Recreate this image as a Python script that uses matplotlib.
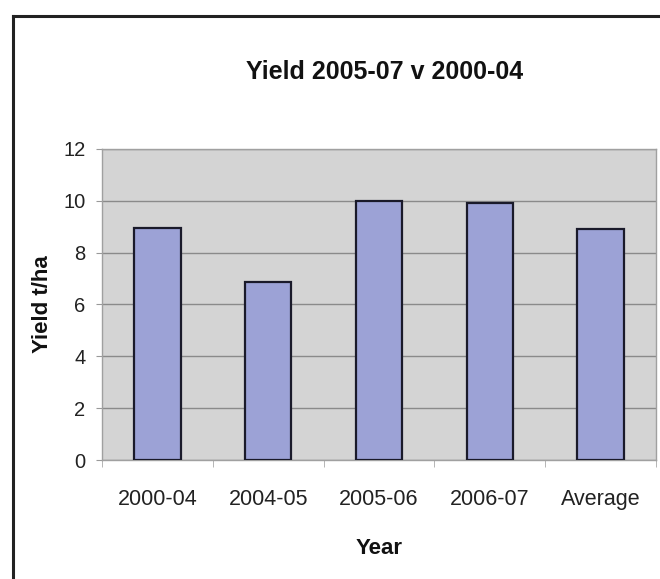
import matplotlib
matplotlib.use("Agg")
import matplotlib.pyplot as plt
from matplotlib.lines import Line2D

categories = ["2000-04", "2004-05", "2005-06", "2006-07", "Average"]
yields = [8.95, 6.85, 10.0, 9.9, 8.9]
y_ticks = [0, 2, 4, 6, 8, 10, 12]

title = "Yield 2005-07 v 2000-04"
x_label = "Year"
y_label = "Yield t/ha"

plt.rcParams["font.family"] = ["Liberation Sans", "DejaVu Sans"]

fig = plt.figure(figsize=(6.6, 5.79), dpi=100)
fig.patch.set_facecolor("white")
ax = fig.add_axes([0.1545, 0.2055, 0.8394, 0.5372])

ax.set_facecolor("#d4d4d4")
x = range(len(categories))
ax.bar(x, yields, width=0.42, color="#9ca2d6", edgecolor="#1a1a2a", linewidth=1.6, zorder=3)

ax.set_xlim(-0.5, len(categories) - 0.5)
ax.set_ylim(0, 12)
ax.set_yticks(y_ticks)
ax.yaxis.grid(True, color="#8a8a8a", linewidth=1.0, zorder=1)
ax.set_axisbelow(True)

ax.set_xticks(list(x))
ax.set_xticklabels(categories, fontsize=15.5, color="#222222")
ax.tick_params(axis="x", length=0, pad=21)
ax.set_xticks([i - 0.5 for i in range(len(categories) + 1)], minor=True)
ax.tick_params(axis="x", which="minor", length=5, color="#aaaaaa", direction="out")
ax.tick_params(axis="y", labelsize=14.5, length=4, color="#999999", pad=8, labelcolor="#222222")

for side in ["top", "right", "left", "bottom"]:
    ax.spines[side].set_color("#a0a0a0")
    ax.spines[side].set_linewidth(1.0)

ax.set_xlabel(x_label, fontsize=16, fontweight="bold", labelpad=20, color="#111111")
ax.set_ylabel(y_label, fontsize=16, fontweight="bold", labelpad=7, color="#111111")
fig.text(0.582, 0.876, title, fontsize=18, fontweight="bold", ha="center", va="center", color="#111111")

# chart frame (top and left edges)
fig.add_artist(Line2D([13 / 660, 13 / 660], [0, 1 - 16 / 579], transform=fig.transFigure,
                      color="#222222", linewidth=2.2))
fig.add_artist(Line2D([13 / 660, 1], [1 - 16 / 579, 1 - 16 / 579], transform=fig.transFigure,
                      color="#222222", linewidth=2.2))

fig.savefig("out.png", dpi=100)
